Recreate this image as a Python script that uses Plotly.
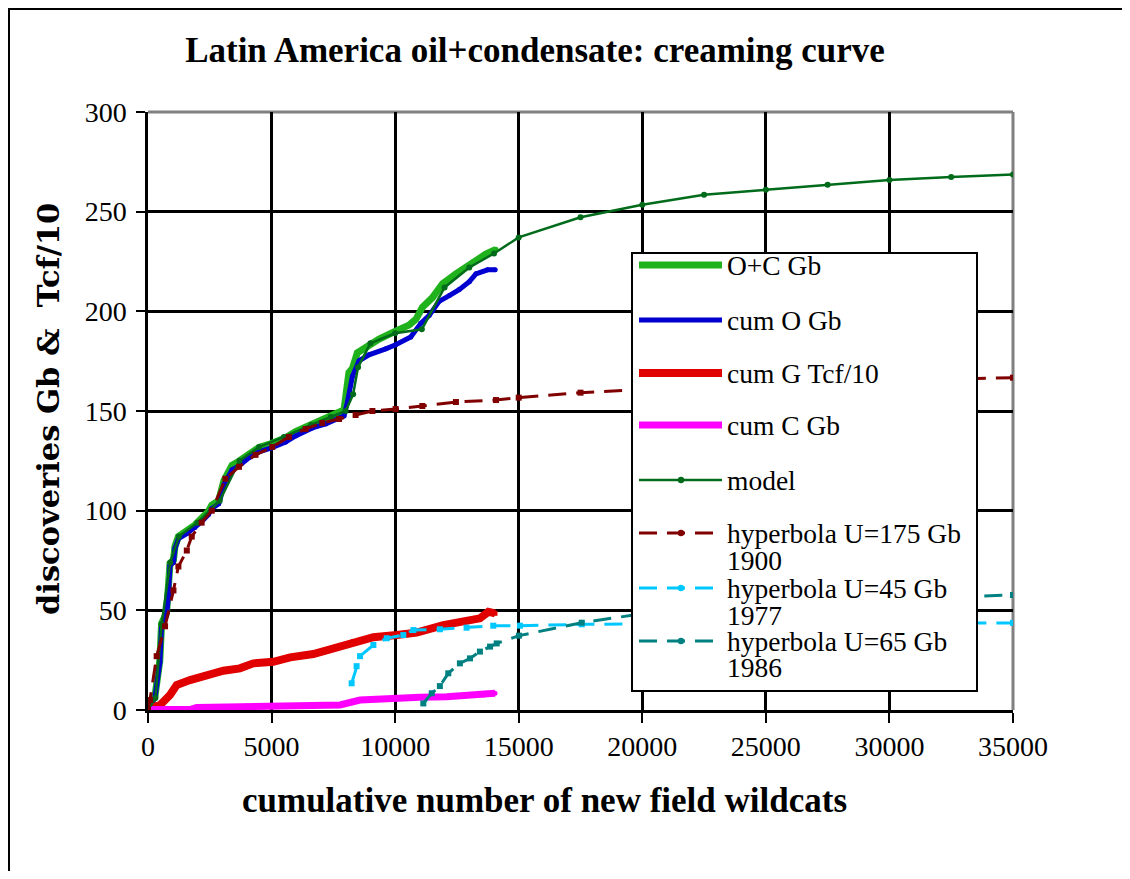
import plotly.graph_objects as go

# ---------------- data ----------------
oc_x = [0, 280, 480, 550, 750, 820, 890, 1030, 1090, 1230, 1570, 1900, 2170, 2440, 2580, 2860,
        3070, 3400, 3680, 4080, 4490, 4990, 5570, 5970, 6650, 7190, 7730, 7930, 8130, 8270, 8470,
        8810, 9350, 10020, 10560, 10840, 11100, 11510, 11920, 12460, 13130, 13670, 14080]
oc_y = [1, 6.7, 25, 43.5, 48.6, 57, 73.6, 75.2, 82, 87, 89.5, 92.8, 96.2, 99.5, 102.8, 105,
        115, 122.8, 124.8, 128.7, 131.7, 133.7, 136.6, 139.6, 143.6, 145.9, 149.1, 150.5, 169.3, 171.3, 179.2,
        182.2, 186.1, 190.1, 193.1, 196, 202, 206.9, 213.9, 218.8, 224.8, 228.7, 231.1]

o_x = [0, 280, 480, 550, 750, 820, 890, 1030, 1090, 1230, 1570, 1900, 2170, 2440, 2580, 2860,
       3070, 3400, 3680, 4080, 4490, 4990, 5570, 5970, 6650, 7190, 7730, 7930, 8070, 8270, 8540,
       8940, 9620, 10020, 10630, 11040, 11380, 11780, 12190, 12590, 13000, 13270, 13740, 14050]
o_y = [1, 6, 24, 42.5, 47.5, 56, 72.5, 74, 81, 86, 88.5, 91.5, 94.5, 98, 101, 103.5,
       113, 120.5, 122.5, 126.5, 129.5, 131.5, 134.5, 137.5, 141.5, 143.5, 146.5, 147.5, 154.5, 167.3, 175.2,
       178.2, 181.2, 183.2, 187.1, 194, 198, 205, 207.9, 210.9, 214.9, 218.8, 220.8, 220.8]

g_x = [0, 490, 890, 1160, 1700, 2370, 3050, 3720, 4260, 5070, 5750, 6690, 7500, 8310, 9120,
       10060, 10870, 11950, 12760, 13430, 13770, 14040]
g_y = [0.8, 2.5, 7.5, 12.5, 15, 17.6, 19.7, 20.9, 23.4, 24.2, 26.4, 28.1, 30.9, 34.3, 36.5,
       37.6, 38.8, 42.6, 44.3, 46, 49.3, 48.5]

c_x = [0, 1700, 1970, 3990, 7770, 8580, 9930, 11000, 12090, 13570, 14040]
c_y = [0.2, 0.2, 1.3, 2, 2.5, 5, 5.3, 6.4, 6.7, 7.5, 8.4]

model_x = [0, 300, 550, 900, 1250, 2000, 2900, 3700, 4500, 5500, 6600, 7400, 8000, 8300, 8500,
           9000, 10000, 11080, 12000, 13000, 14000, 15000, 17500, 20000, 22500, 25000, 27500,
           30000, 32500, 35000]
model_y = [0, 6, 43, 74, 87, 94, 105, 125, 132, 137, 143, 147, 150, 158.4, 172,
           184, 189, 191, 212, 222, 229, 237.1, 247.2, 253.5, 258.5, 261, 263.5,
           265.9, 267.4, 268.6]

h175_x = [0, 80, 350, 690, 1030, 1230, 1570, 1770, 2170, 2580, 3130, 3680, 4350, 5030, 5700,
          6380, 7050, 7730, 8400, 9080, 10020, 11100, 12460, 14080, 15000, 17500, 20000,
          22500, 25000, 27500, 30000, 32500, 35000]
h175_y = [0, 5, 27, 42, 60, 72, 80, 87, 94, 100, 116, 122, 128, 132, 137,
          141, 144, 146, 148, 150, 151, 152.5, 154.5, 155.5, 156.7, 159.2, 161,
          162.5, 163.5, 164.5, 165.3, 166, 166.7]

h45_x = [8240, 8440, 8580, 9120, 9660, 10330, 10740, 11810, 12890, 13970, 15050, 17550,
         20000, 22500, 25000, 27500, 30000, 32500, 35000]
h45_y = [13.4, 22, 27, 32.6, 36, 37.6, 40.1, 40.5, 41.3, 42.3, 42.3, 43,
         43.2, 43.3, 43.4, 43.5, 43.6, 43.7, 43.7]

h65_x = [11140, 11480, 11810, 12150, 12620, 13030, 13430, 13840, 14110, 15010, 17550,
         20000, 22500, 25000, 27500, 30000, 32500, 35000]
h65_y = [3.3, 8.4, 12, 18.4, 23.4, 25.9, 29.3, 31.8, 33.4, 37.3, 43.8,
         48.3, 50.8, 52.7, 54.3, 55.6, 56.7, 57.7]

x_ticks = [0, 5000, 10000, 15000, 20000, 25000, 30000, 35000]
y_ticks = [0, 50, 100, 150, 200, 250, 300]

series_names = ["O+C Gb", "cum O Gb", "cum G Tcf/10", "cum C Gb", "model",
                "hyperbola U=175 Gb", "hyperbola U=45 Gb", "hyperbola U=65 Gb"]
series_years = ["", "", "", "", "", "1900", "1977", "1986"]

# ---------------- styling ----------------
SERIF = "Liberation Serif, Times New Roman, serif"
COLORS = ["#20B21C", "#0000D0", "#E00000", "#FF00FF", "#006B1A", "#800000", "#00C8FF", "#008080"]
WIDTHS = [7, 5, 8, 7, 2.5, 3, 3, 3]
DASHES = ["solid"] * 5 + ["18px,10px"] * 3
SYMS = ["circle", "circle", "square", "circle", "circle", "square", "square", "square"]
MSIZE = [5, 5, 5, 5, 6, 6, 6, 6]
TICK_FONT = 28

# page sits 8px inside the window (body margin) -> plot area at screen 148..1013, 112..710
OFF = 8
PL, PT, PW, PH = 148 - OFF, 112 - OFF, 865, 598
W, H = 1130 - 2 * OFF, 879 - 2 * OFF

fig = go.Figure()
all_x = [oc_x, o_x, g_x, c_x, model_x, h175_x, h45_x, h65_x]
all_y = [oc_y, o_y, g_y, c_y, model_y, h175_y, h45_y, h65_y]
for i in range(8):
    fig.add_trace(go.Scatter(
        x=all_x[i], y=all_y[i], name=series_names[i], mode="lines+markers",
        line=dict(color=COLORS[i], width=WIDTHS[i], dash=DASHES[i]),
        marker=dict(color=COLORS[i], size=MSIZE[i], symbol=SYMS[i]),
        showlegend=False,
    ))

fig.update_layout(
    width=W, height=H,
    margin=dict(l=PL, r=W - PL - PW, t=PT, b=H - PT - PH, autoexpand=False),
    paper_bgcolor="white", plot_bgcolor="white",
    font=dict(family=SERIF, size=24, color="black"),
    title=dict(text="<b>Latin America oil+condensate: creaming curve</b>",
               x=(535 - OFF) / W, xanchor="center", y=1 - (50 - OFF) / H, yanchor="middle",
               font=dict(family=SERIF, size=35, color="black")),
    showlegend=False,
)
fig.update_xaxes(
    range=[0, 35000], tickvals=x_ticks, ticktext=[str(v) for v in x_ticks],
    showgrid=True, gridcolor="black", gridwidth=2.5,
    showline=True, linecolor="black", linewidth=2.5,
    zeroline=True, zerolinecolor="black", zerolinewidth=2.5,
    ticks="outside", ticklen=10, tickwidth=2, tickcolor="black",
    tickfont=dict(family=SERIF, size=TICK_FONT), automargin=False,
)
fig.update_yaxes(
    range=[0, 300], tickvals=y_ticks, ticktext=[str(v) for v in y_ticks],
    showgrid=True, gridcolor="black", gridwidth=2.5,
    showline=True, linecolor="black", linewidth=2.5,
    zeroline=True, zerolinecolor="black", zerolinewidth=2.5,
    ticks="outside", ticklen=9, tickwidth=2, tickcolor="black", ticklabelstandoff=4,
    tickfont=dict(family=SERIF, size=TICK_FONT), automargin=False,
)

def px(sx):
    return (sx - 148) / PW

def py(sy):
    return (710 - sy) / PH

shapes = []
# gray plot-area border on top and right
shapes.append(dict(type="line", xref="paper", yref="paper", x0=0, x1=1, y0=1, y1=1,
                   line=dict(color="#808080", width=3), layer="between"))
shapes.append(dict(type="line", xref="paper", yref="paper", x0=1, x1=1, y0=0, y1=1,
                   line=dict(color="#808080", width=3), layer="between"))
# outer frame of the picture (left and top edges visible)
shapes.append(dict(type="rect", xref="paper", yref="paper",
                   x0=px(9), x1=px(1200), y0=py(950), y1=py(9),
                   line=dict(color="black", width=2), fillcolor="rgba(0,0,0,0)", layer="below"))

annotations = []
# axis titles placed where the original has them
annotations.append(dict(xref="paper", yref="paper", x=px(544), y=py(800),
                        xanchor="center", yanchor="middle", showarrow=False,
                        text="<b>cumulative number of new field wildcats</b>",
                        font=dict(family=SERIF, size=35, color="black")))
annotations.append(dict(xref="paper", yref="paper", x=px(48), y=py(409),
                        xanchor="center", yanchor="middle", showarrow=False, textangle=-90,
                        text="<b>discoveries Gb &  Tcf/10</b>",
                        font=dict(family="DejaVu Serif, serif", size=30.5, color="black")))

# legend box (drawn with shapes + annotations to match the original spacing)
shapes.append(dict(type="rect", xref="paper", yref="paper",
                   x0=px(632), x1=px(977), y0=py(691), y1=py(253),
                   line=dict(color="black", width=2), fillcolor="white", layer="above"))
row_y = [265, 320, 373, 425, 480, 533, 588, 641]
year_y = [None, None, None, None, None, 560, 615, 667]
for i in range(8):
    shapes.append(dict(type="line", xref="paper", yref="paper",
                       x0=px(639), x1=px(722), y0=py(row_y[i]), y1=py(row_y[i]),
                       line=dict(color=COLORS[i], width=WIDTHS[i], dash=DASHES[i]),
                       layer="above"))
    if i >= 4:
        r = 3.2
        shapes.append(dict(type="circle", xref="paper", yref="paper",
                           x0=px(681 - r), x1=px(681 + r), y0=py(row_y[i] + r), y1=py(row_y[i] - r),
                           line=dict(color=COLORS[i], width=0), fillcolor=COLORS[i], layer="above"))
    annotations.append(dict(xref="paper", yref="paper", x=px(725), y=py(row_y[i]),
                            xanchor="left", yanchor="middle", showarrow=False,
                            text=series_names[i], font=dict(family=SERIF, size=27.5, color="black")))
    if series_years[i]:
        annotations.append(dict(xref="paper", yref="paper", x=px(725), y=py(year_y[i]),
                                xanchor="left", yanchor="middle", showarrow=False,
                                text=series_years[i], font=dict(family=SERIF, size=27.5, color="black")))

fig.update_layout(shapes=shapes, annotations=annotations)
fig.write_html("out.html")
